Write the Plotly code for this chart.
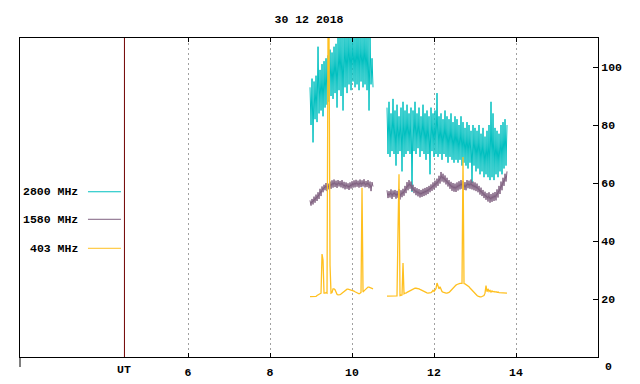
import numpy as np
import plotly.graph_objects as go

title_text = "30 12 2018"
series_names = ["2800 MHz", "1580 MHz", "403 MHz"]
series_colors = ["#00c0c0", "#7f6080", "#ffc020"]

# sampling: one sample every 1/41 h, two observing blocks
block_starts = [8.976, 10.854]
sample_step = 1.0 / 41.0

# 2800 MHz (noisy flux, alternating high / low samples)
f2800_a = [93, 80, 96, 74, 95, 82, 97, 81, 107, 84,
           99, 85, 101, 83, 102, 86, 103, 87, 104, 88,
           106, 90, 105, 89, 107, 91, 108, 86, 110, 92,
           112, 90, 111, 85, 113, 93, 112, 91, 114, 94,
           112, 92, 113, 95, 111, 93, 112, 94, 113, 92,
           112, 95, 111, 93, 113, 94, 112, 92, 111, 85,
           110, 94, 103, 93]
f2800_b = [86, 70, 88, 69, 84, 71, 89, 70, 85, 66,
           87, 70, 83, 71, 86, 64, 88, 69, 85, 70,
           87, 71, 84, 70, 86, 57, 85, 71, 88, 70,
           84, 72, 86, 69, 83, 71, 87, 70, 84, 68,
           85, 70, 83, 63, 86, 71, 84, 69, 85, 70,
           91, 69, 83, 70, 84, 68, 82, 70, 85, 69,
           83, 67, 82, 69, 84, 68, 81, 67, 83, 68,
           82, 67, 80, 68, 83, 66, 81, 67, 79, 66,
           81, 65, 80, 67, 78, 60, 80, 66, 79, 64,
           78, 65, 80, 63, 77, 64, 79, 62, 76, 63,
           78, 62, 80, 61, 88, 62, 84, 61, 79, 63,
           78, 62, 77, 64, 80, 63, 81, 65, 82, 66,
           80]

# 1580 MHz
f1580_a = [54.0, 52.2, 54.5, 52.6, 55.3, 53.2, 56.0, 53.8, 56.8, 54.5,
           58.0, 55.5, 58.8, 56.8, 59.4, 57.5, 60.0, 57.2, 59.8, 57.8,
           60.5, 58.0, 60.9, 58.4, 61.2, 58.6, 60.8, 58.3, 61.0, 58.8,
           60.7, 58.5, 61.0, 58.2, 60.4, 57.8, 60.2, 58.0, 59.9, 57.6,
           60.2, 58.1, 60.6, 58.4, 60.9, 58.5, 61.1, 58.7, 60.8, 58.4,
           61.2, 58.6, 60.9, 58.8, 61.3, 58.5, 60.7, 58.6, 61.0, 58.2,
           60.5, 57.2, 60.3, 58.8]
f1580_b = [57.5, 54.8, 57.2, 55.0, 57.8, 54.5, 57.4, 55.2, 57.6, 54.6,
           57.3, 54.9, 57.9, 54.3, 57.5, 55.1, 58.0, 55.6, 59.0, 56.5,
           60.3, 57.5, 61.0, 58.0, 60.5, 57.2, 59.4, 56.5, 58.6, 55.8,
           58.2, 55.4, 57.9, 55.0, 57.6, 55.2, 58.0, 55.5, 58.3, 55.8,
           58.6, 56.2, 59.0, 56.8, 59.5, 57.3, 60.2, 57.8, 60.8, 58.4,
           61.5, 59.0, 62.5, 59.8, 63.8, 60.5, 63.2, 60.2, 62.6, 59.5,
           61.8, 58.8, 61.0, 58.0, 60.4, 57.3, 60.0, 57.0, 59.8, 56.9,
           60.2, 57.4, 60.6, 57.8, 61.0, 58.0, 60.7, 57.6, 60.3, 57.5,
           61.0, 58.2, 60.8, 58.0, 61.2, 57.8, 60.5, 57.5, 60.2, 57.2,
           59.8, 56.8, 59.0, 56.0, 58.4, 55.5, 57.6, 54.8, 57.0, 54.2,
           56.5, 53.6, 56.8, 53.2, 56.2, 53.5, 56.6, 53.8, 56.9, 54.0,
           57.8, 55.0, 59.0, 56.2, 60.5, 57.5, 61.8, 59.0, 63.2, 60.5,
           64.0]

# 403 MHz
f403_a = [20.8, 20.8, 20.8, 20.8, 20.8, 20.7, 20.9, 21.2, 21.5, 21.7,
          21.8, 22.0, 35.5, 33.4, 22.0, 22.0, 22.2, 22.0, 112, 112,
          31.7, 22.0, 22.2, 23.5, 23.5, 23.2, 22.0, 21.6, 21.4, 21.4,
          21.5, 21.7, 22.0, 22.4, 22.8, 23.1, 23.3, 23.4, 23.4, 23.3,
          23.3, 23.2, 23.0, 22.8, 22.7, 22.5, 22.3, 22.0, 21.8, 21.8,
          22.0, 22.3, 58.4, 22.4, 22.8, 23.2, 23.6, 23.9, 24.1, 24.1,
          24.0, 23.8, 23.6, 23.5]
f403_b = [21.0, 21.0, 21.0, 21.0, 21.0, 21.0, 21.0, 21.0, 21.1, 21.1,
          21.1, 43.8, 63.0, 21.2, 21.2, 21.4, 32.4, 21.8, 22.0, 22.0,
          22.3, 22.5, 22.7, 22.9, 23.1, 23.3, 23.4, 23.6, 23.7, 23.7,
          23.7, 23.6, 23.5, 23.3, 23.1, 22.9, 22.7, 22.5, 22.3, 22.2,
          22.1, 22.0, 22.0, 22.0, 22.2, 22.5, 23.0, 22.6, 23.0, 23.6,
          25.5, 24.0, 23.5, 24.2, 23.0, 22.6, 22.4, 22.2, 22.0, 22.0,
          22.0, 22.1, 22.3, 22.6, 23.0, 23.4, 23.8, 24.2, 24.5, 24.8,
          25.0, 25.2, 25.3, 25.4, 25.4, 25.4, 69.0, 25.3, 25.2, 25.0,
          24.8, 24.5, 24.2, 23.8, 23.4, 23.0, 22.6, 22.2, 21.8, 21.5,
          21.2, 21.0, 20.8, 20.7, 20.7, 20.8, 21.0, 21.2, 22.0, 24.6,
          22.5, 23.5, 22.6, 23.0, 22.4, 22.8, 22.5, 22.6, 22.4, 22.5,
          22.3, 22.4, 22.2, 22.2, 22.1, 22.1, 22.0, 22.0, 22.0, 22.0,
          22.0]

x_ticks = [6, 8, 10, 12, 14]
y_ticks = [20, 40, 60, 80, 100]
ut_hour = 4.45
x_range = [1.9024, 16.0]
y_range = [0, 110]


def join_blocks(a, b):
    ta = block_starts[0] + np.arange(len(a)) * sample_step
    tb = block_starts[1] + np.arange(len(b)) * sample_step
    x = list(ta) + [None] + list(tb)
    y = list(a) + [None] + list(b)
    return x, y


FONT = "Liberation Mono"
fs = 11.5
W, H = 632, 376  # page body has an 8px margin

fig = go.Figure()
for (a, b), name, col, w in zip([(f2800_a, f2800_b), (f1580_a, f1580_b), (f403_a, f403_b)],
                                series_names, series_colors, [1, 1, 1.3]):
    x, y = join_blocks(a, b)
    fig.add_trace(go.Scatter(x=x, y=y, mode="lines", name=name,
                             line=dict(color=col, width=w), connectgaps=False,
                             showlegend=False, hoverinfo="skip"))

# UT separator line
fig.add_shape(type="line", xref="x", yref="paper", x0=ut_hour, x1=ut_hour, y0=0, y1=1,
              line=dict(color="#700000", width=1))
# left frame tail
fig.add_shape(type="line", xref="paper", yref="paper", x0=0, x1=0, y0=0, y1=-10 / 319,
              line=dict(color="black", width=1))

annotations = [
    dict(text="UT", x=ut_hour, xref="x", y=0, yref="paper", yanchor="top", yshift=-4,
         showarrow=False, font=dict(family=FONT, size=fs, color="black", weight="bold")),
    dict(text="0", x=1, xref="paper", y=0, yref="y", xanchor="left", xshift=5, yshift=-9,
         showarrow=False, font=dict(family=FONT, size=fs, color="black", weight="bold")),
]
leg_y = [0.518, 0.4317, 0.3408]
for name, col, ly in zip(series_names, series_colors, leg_y):
    annotations.append(dict(text=name, x=0.1038, xref="paper", y=ly, yref="paper",
                            xanchor="right", yanchor="middle", showarrow=False,
                            font=dict(family=FONT, size=fs, color="black", weight="bold")))
    fig.add_shape(type="line", xref="paper", yref="paper", x0=0.1176, x1=0.1747, y0=ly, y1=ly,
                  line=dict(color=col, width=1))

fig.update_layout(
    width=W, height=H,
    margin=dict(l=12, r=42, t=30, b=27, autoexpand=False),
    paper_bgcolor="white", plot_bgcolor="white",
    title=dict(text=title_text, x=0.5, xref="paper", xanchor="center",
               y=1 - 11 / H, yref="container", yanchor="middle",
               font=dict(family=FONT, size=fs, color="black", weight="bold")),
    xaxis=dict(range=x_range, tickvals=x_ticks, ticktext=[str(v) for v in x_ticks],
               ticks="inside", ticklen=4, tickcolor="black", showline=True, linecolor="black",
               linewidth=1, mirror="ticks", showgrid=True, gridcolor="#a0a0a0",
               griddash="2px,3px", gridwidth=1, zeroline=False, ticklabelstandoff=4,
               automargin=False,
               tickfont=dict(family=FONT, size=fs, color="black", weight="bold")),
    yaxis=dict(range=y_range, tickvals=y_ticks, side="right",
               ticks="inside", ticklen=5, tickcolor="black", showline=True, linecolor="black",
               linewidth=1, mirror=True, showgrid=False, zeroline=False, automargin=False,
               tickfont=dict(family=FONT, size=fs, color="black", weight="bold")),
    annotations=annotations,
    showlegend=False,
)

fig.write_html("out.html")
